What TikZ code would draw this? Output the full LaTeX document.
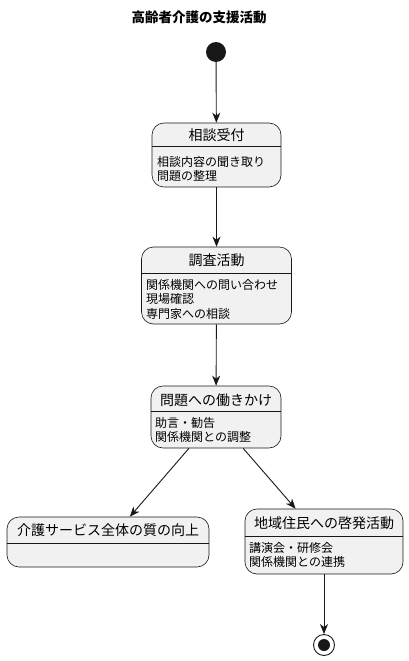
\documentclass[tikz,border=0pt]{standalone}
\usepackage{fontspec}
\setmainfont{Noto Sans CJK JP}
\usetikzlibrary{arrows.meta}
\definecolor{bord}{HTML}{181818}
\definecolor{boxfill}{HTML}{F1F1F1}
\tikzset{
  box/.style={draw=bord, fill=boxfill, line width=0.6pt, rounded corners=12pt, inner sep=0pt},
  divline/.style={draw=bord, line width=0.6pt},
  ttl/.style={font=\fontsize{14}{16}\selectfont, inner sep=0pt},
  bodytxt/.style={font=\fontsize{12}{14.5}\selectfont, align=left, anchor=west, inner sep=0pt},
  arr/.style={draw=bord, line width=0.9pt, -{Stealth[length=10pt,width=8pt,inset=3pt]}},
}
\begin{document}
\begin{tikzpicture}[x=1pt,y=-1pt]
\useasboundingbox (0,0) rectangle (409,661);
\node[font=\bfseries\fontsize{13.5}{16}\selectfont, inner sep=0pt] (title) at (199,17) {高齢者介護の支援活動};
\node[circle, fill=bord, minimum size=20pt, inner sep=0pt] (start) at (216,52) {};
% box 1
\node[box, minimum width=129pt, minimum height=64pt] (b1) at (216.5,155) {};
\draw[divline] (b1.west |- 0,146) -- (b1.east |- 0,146);
\node[ttl] (b1t) at (216.5,135) {相談受付};
\node[bodytxt] (b1b) at (157,169) {相談内容の聞き取り\\問題の整理};
% box 2
\node[box, minimum width=150pt, minimum height=77pt] (b2) at (216.5,285.5) {};
\draw[divline] (b2.west |- 0,273) -- (b2.east |- 0,273);
\node[ttl] (b2t) at (216.5,260.5) {調査活動};
\node[bodytxt] (b2b) at (146,299) {関係機関への問い合わせ\\現場確認\\専門家への相談};
% box 3
\node[box, minimum width=130pt, minimum height=62pt] (b3) at (216,417) {};
\draw[divline] (b3.west |- 0,411) -- (b3.east |- 0,411);
\node[ttl] (b3t) at (216,400) {問題への働きかけ};
\node[bodytxt] (b3b) at (155,430) {助言・勧告\\関係機関との調整};
% box 4
\node[box, minimum width=202pt, minimum height=50pt] (b4) at (108,542) {};
\draw[divline] (b4.west |- 0,543) -- (b4.east |- 0,543);
\node[ttl] (b4t) at (108,530) {介護サービス全体の質の向上};
% box 5
\node[box, minimum width=158pt, minimum height=65pt] (b5) at (324,541.5) {};
\draw[divline] (b5.west |- 0,536) -- (b5.east |- 0,536);
\node[ttl] (b5t) at (324,523) {地域住民への啓発活動};
\node[bodytxt] (b5b) at (249,555) {講演会・研修会\\関係機関との連携};
% end
\node[circle, draw=bord, fill=white, line width=0.9pt, minimum size=21pt, inner sep=0pt] (end) at (324,645) {};
\node[circle, fill=bord, minimum size=12pt, inner sep=0pt] (endin) at (324,645) {};
% arrows
\draw[arr] (start) -- (b1);
\draw[arr] (b1) -- (b2);
\draw[arr] (b2) -- (b3);
\draw[arr] (b3) -- (b4);
\draw[arr] (b3) -- (b5);
\draw[arr] (b5) -- (end);
\end{tikzpicture}
\end{document}
